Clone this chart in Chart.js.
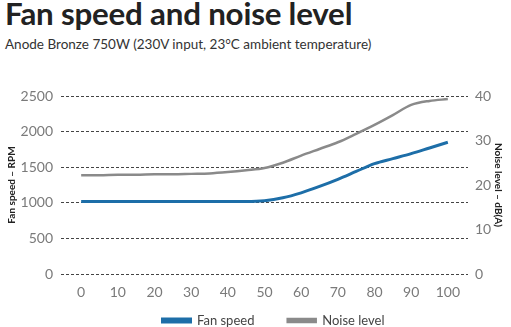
<!DOCTYPE html>
<html>
<head>
<meta charset="utf-8">
<script src="https://cdn.jsdelivr.net/npm/chart.js@4.4.0/dist/chart.umd.min.js"></script>
<style>
  body { margin: 0; background: #fff; width: 511px; height: 327px; overflow: hidden; position: relative; font-family: Lato, sans-serif; }
  .title { position: absolute; left: 5px; top: -6px; font-size: 31.3px; font-weight: 700; color: #222; letter-spacing: -0.2px; }
  .subtitle { position: absolute; left: 5px; top: 36px; font-size: 13.5px; color: #333; }
  .wrap { position: absolute; left: 0; top: 62px; width: 511px; height: 265px; }
</style>
</head>
<body>
<div class="title">Fan speed and noise level</div>
<div class="subtitle">Anode Bronze 750W (230V input, 23°C ambient temperature)</div>
<div class="wrap"><canvas id="myChart"></canvas></div>
<script>
// Load (%) positions
const loads = [0, 5, 10, 15, 20, 25, 30, 35, 40, 45, 50, 55, 60, 65, 70, 75, 80, 85, 90, 95, 100];
// Fan speed in RPM
const fanSpeed = [1020, 1020, 1020, 1020, 1020, 1020, 1020, 1020, 1020, 1020, 1030, 1070, 1140, 1230, 1330, 1440, 1550, 1620, 1690, 1770, 1850];
// Noise level in dB(A)
const noiseLevel = [22.2, 22.2, 22.3, 22.3, 22.4, 22.4, 22.5, 22.6, 22.9, 23.3, 23.8, 25.0, 26.6, 28.1, 29.6, 31.5, 33.5, 35.7, 38.0, 38.9, 39.3];
const xTicks = [0, 10, 20, 30, 40, 50, 60, 70, 80, 90, 100];
const rpmTicks = [0, 500, 1000, 1500, 2000, 2500];
const dbTicks = [0, 10, 20, 30, 40];

const toPoints = (ys) => ys.map((y, i) => ({ x: loads[i], y: y }));
const tickFont = { family: 'Lato', size: 14 };
const plain = (v) => String(v);

// nudge the legend a bit to the right, it sits off-centre in the original
const legendShift = {
    id: 'legendShift',
    afterLayout: (chart) => {
        chart.legend.left += 18;
        chart.legend.right += 18;
    }
};

const ctx = document.getElementById('myChart').getContext('2d');
const myChart = new Chart(ctx, {
    type: 'line',
    data: {
        datasets: [{
            label: 'Fan speed',
            data: toPoints(fanSpeed),
            borderColor: '#1d6ea8',
            backgroundColor: '#1d6ea8',
            borderWidth: 3,
            pointRadius: 0,
            cubicInterpolationMode: 'monotone',
            yAxisID: 'y'
        }, {
            label: 'Noise level',
            data: toPoints(noiseLevel),
            borderColor: '#8a8a8a',
            backgroundColor: '#8a8a8a',
            borderWidth: 2.5,
            pointRadius: 0,
            cubicInterpolationMode: 'monotone',
            yAxisID: 'y1'
        }]
    },
    plugins: [legendShift],
    options: {
        responsive: true,
        maintainAspectRatio: false,
        animation: false,
        layout: { padding: { left: 0, right: 0, top: 34, bottom: -10 } },
        plugins: {
            tooltip: { enabled: false },
            legend: {
                position: 'bottom',
                labels: {
                    boxWidth: 28,
                    boxHeight: 3,
                    color: '#444',
                    padding: 10,
                    font: { family: 'Lato', size: 13 },
                    generateLabels: (chart) => {
                        const items = Chart.defaults.plugins.legend.labels.generateLabels(chart);
                        // extra room after the first entry, like the original spacing
                        items[0].text = items[0].text + '       ';
                        return items;
                    }
                }
            }
        },
        scales: {
            x: {
                type: 'linear',
                min: -5.5,
                max: 105.5,
                afterBuildTicks: (axis) => { axis.ticks = xTicks.map(v => ({ value: v })); },
                afterFit: (axis) => { axis.height = 30; },
                grid: { display: false },
                border: { display: false },
                ticks: { color: '#7a7a7a', font: tickFont, padding: 2, callback: plain }
            },
            y: {
                position: 'left',
                min: 0,
                max: 2500,
                afterBuildTicks: (axis) => { axis.ticks = rpmTicks.map(v => ({ value: v })); },
                afterFit: (axis) => { axis.width = 61; },
                grid: { color: '#444', lineWidth: 1, drawTicks: false },
                border: { display: false, dash: [3, 2] },
                ticks: { color: '#7a7a7a', font: tickFont, padding: 8, callback: plain },
                title: { display: true, text: 'Fan speed – RPM', color: '#222', font: { family: 'Lato', size: 10, weight: 'bold' }, padding: 6 }
            },
            y1: {
                position: 'right',
                min: 0,
                max: 40,
                afterBuildTicks: (axis) => { axis.ticks = dbTicks.map(v => ({ value: v })); },
                afterFit: (axis) => { axis.width = 43; },
                grid: { drawOnChartArea: false, drawTicks: false },
                border: { display: false },
                ticks: { color: '#7a7a7a', font: tickFont, padding: 7, callback: plain },
                title: { display: true, text: 'Noise level – dB(A)', color: '#222', font: { family: 'Lato', size: 10, weight: 'bold' }, padding: 7 }
            }
        }
    }
});
</script>
</body>
</html>
